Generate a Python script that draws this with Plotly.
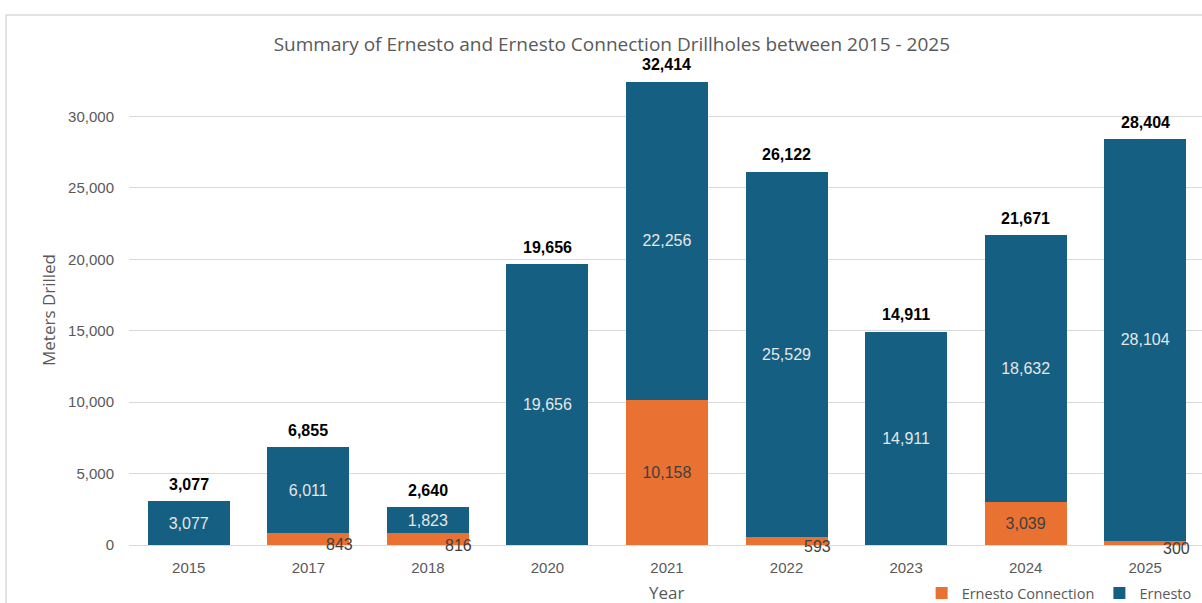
import plotly.graph_objects as go

# Drilling summary by year (meters)
years = ["2015", "2017", "2018", "2020", "2021", "2022", "2023", "2024", "2025"]
connection = [0, 843, 816, 0, 10158, 593, 0, 3039, 300]
ernesto = [3077, 6011, 1823, 19656, 22256, 25529, 14911, 18632, 28104]
totals = [3077, 6855, 2640, 19656, 32414, 26122, 14911, 21671, 28404]
y_ticks = [0, 5000, 10000, 15000, 20000, 25000, 30000]

BLUE = "#156082"
ORANGE = "#E97132"
GREY = "#595959"
NUM_FONT = "Liberation Sans, Arial, sans-serif"
TXT_FONT = "Open Sans, sans-serif"
SMALL = 1500  # orange segments thinner than this get an outside label

def fmt(v):
    return f"{v:,}"

conn_text = [fmt(v) if v >= SMALL else "" for v in connection]
ern_text = [fmt(v) if v > 0 else "" for v in ernesto]

fig = go.Figure()
fig.add_trace(go.Bar(
    name="Ernesto Connection", x=years, y=connection, marker_color=ORANGE,
    marker_line_width=0, text=conn_text, textposition="inside",
    insidetextanchor="middle", textangle=0, constraintext="none",
    textfont=dict(family=NUM_FONT, size=16, color="#404040"),
    hoverinfo="x+y",
))
fig.add_trace(go.Bar(
    name="Ernesto", x=years, y=ernesto, marker_color=BLUE,
    marker_line_width=0, text=ern_text, textposition="inside",
    insidetextanchor="middle", textangle=0, constraintext="none",
    textfont=dict(family=NUM_FONT, size=16, color="#E6E6E6"),
    hoverinfo="x+y",
))

annotations = []
# bold totals above each stack (category axis: position by category index)
for i, t in enumerate(totals):
    annotations.append(dict(
        x=i, y=t, xref="x", yref="y", text=f"<b>{fmt(t)}</b>",
        showarrow=False, yshift=17, yanchor="middle",
        font=dict(family=NUM_FONT, size=16, color="#000000"),
    ))
# thin orange segments: label sits beside the bar base
for i, v in enumerate(connection):
    if 0 < v < SMALL:
        annotations.append(dict(
            x=i, y=v / 2, xref="x", yref="y", text=fmt(v),
            showarrow=False, xshift=31, yshift=-6, yanchor="middle",
            font=dict(family=NUM_FONT, size=16, color="#404040"),
        ))
# axis titles
annotations.append(dict(
    x=-0.0755, y=0.47, xref="paper", yref="paper", text="Meters Drilled",
    textangle=-90, showarrow=False, xanchor="center", yanchor="middle",
    font=dict(family=TXT_FONT, size=17, color=GREY),
))
annotations.append(dict(
    x=0.5005, y=-0.094, xref="paper", yref="paper", text="Year",
    showarrow=False, xanchor="center", yanchor="middle",
    font=dict(family=TXT_FONT, size=17, color=GREY),
))

fig.update_layout(
    width=1202, height=603,
    margin=dict(l=129, r=0, t=45, b=58),
    paper_bgcolor="white", plot_bgcolor="white",
    barmode="stack", bargap=0.314,
    title=dict(
        text="Summary of Ernesto and Ernesto Connection Drillholes between 2015 - 2025",
        x=0.509, xref="container", xanchor="center", y=0.927, yanchor="middle",
        font=dict(family=TXT_FONT, size=19, color=GREY),
    ),
    xaxis=dict(
        type="category", range=[-0.5, 8.475], automargin=False,
        showgrid=False, showline=False, ticks="", ticklabelstandoff=12,
        tickfont=dict(family=NUM_FONT, size=15, color=GREY),
    ),
    yaxis=dict(
        range=[0, 35000], tickvals=y_ticks, tickformat=",", automargin=False,
        showgrid=True, gridcolor="#D9D9D9", gridwidth=1,
        zeroline=True, zerolinecolor="#D9D9D9", zerolinewidth=1,
        showline=False, ticks="", ticklabelstandoff=14,
        tickfont=dict(family=NUM_FONT, size=15, color=GREY),
    ),
    legend=dict(
        orientation="h", x=0.995, xanchor="right",
        yref="container", y=0.0166, yanchor="middle",
        font=dict(family=TXT_FONT, size=14.5, color=GREY), traceorder="normal",
        bgcolor="rgba(0,0,0,0)", itemwidth=30,
    ),
    annotations=annotations,
    shapes=[dict(
        type="rect", xref="paper", yref="paper",
        x0=-0.1146, x1=1.2, y0=-0.3, y1=1.06,
        line=dict(color="#D9D9D9", width=1.5), fillcolor="rgba(0,0,0,0)", layer="below",
    )],
    showlegend=True,
)

fig.write_html("out.html")
